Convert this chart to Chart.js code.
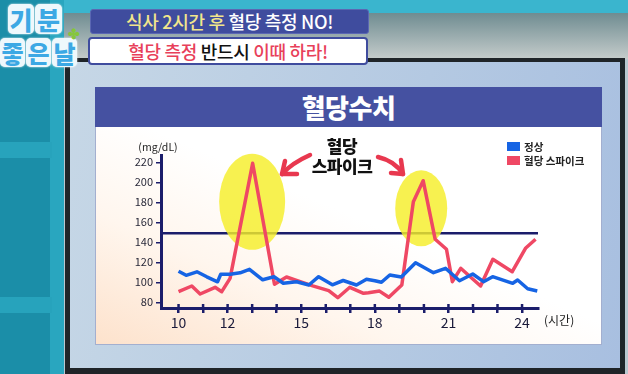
<!DOCTYPE html>
<html><head><meta charset="utf-8">
<script src="https://cdn.jsdelivr.net/npm/chart.js@4"></script>
<style>
*{margin:0;padding:0;box-sizing:border-box}
body{width:628px;height:374px;overflow:hidden;position:relative;background:#b9c7cf;font-family:"Noto Sans CJK KR","Noto Sans",sans-serif}
.a{position:absolute}
.lg{display:inline-block;background:#eef8fc;border-radius:5px;color:#3ca8e4;font-weight:900;text-align:center;margin-right:1px;box-shadow:0 0 2px #fff}
</style></head><body>
<!-- studio background -->
<div class="a" style="left:0;top:0;width:628px;height:14px;background:#3ab5ce"></div>
<div class="a" style="left:0;top:13px;width:628px;height:46px;background:linear-gradient(#6f8c91,#c5cccb)"></div>
<div class="a" style="left:0;top:0;width:52px;height:374px;background:#1b8ea8"></div>
<div class="a" style="left:50px;top:0;width:14px;height:374px;background:#29a6bf"></div>
<div class="a" style="left:0;top:142px;width:52px;height:16px;background:#27a3bc"></div>
<div class="a" style="left:0;top:297px;width:52px;height:16px;background:#27a3bc"></div>
<!-- monitor -->
<div class="a" style="left:65px;top:58px;width:560px;height:320px;background:#1f2428"></div>
<div class="a" style="left:70px;top:62px;width:550px;height:306px;background:linear-gradient(100deg,#c6d7e6,#b4c9e2 60%,#a8bfe0)"></div>
<!-- chart board -->
<div class="a" style="left:95px;top:87px;width:507px;height:40px;background:#4551a1;color:#fff;font-weight:900;font-size:26px;line-height:40px;text-align:center;letter-spacing:-0.5px">혈당수치</div>
<div class="a" style="left:95px;top:127px;width:507px;height:218px;background:linear-gradient(to top right,#fde2cc 0%,#fff6ee 30%,#ffffff 55%);border:1px solid #a3afcf;border-top:none"></div>
<canvas id="c" class="a" width="507" height="218" style="left:95px;top:127px;width:507px;height:218px"></canvas>
<!-- annotation -->
<div class="a" style="left:297px;top:136px;width:90px;text-align:center;font-weight:800;font-size:17px;line-height:20px;color:#111;letter-spacing:-0.5px">혈당<br>스파이크</div>
<!-- legend -->
<div class="a" id="legend" style="left:507px;top:140px;font-size:10.5px;font-weight:700;color:#222;line-height:13px"></div>
<!-- banners -->
<div class="a" style="left:90px;top:9px;width:279px;height:25px;background:#3f4c9e;border-radius:3px;border:1px solid #5b67b3;text-align:center;font-size:18px;font-weight:500;line-height:23px;color:#fff;letter-spacing:-0.3px"><span style="color:#f2e68c">식사 2시간 후</span> 혈당 측정 NO!</div>
<div class="a" style="left:88px;top:37px;width:280px;height:28px;background:#fff;border-radius:4px;border:2px solid #3f4c9e;text-align:center;font-size:18px;font-weight:500;line-height:24px;color:#111;letter-spacing:-0.3px"><span style="color:#e8405a">혈당 측정</span> 반드시 <span style="color:#e8405a">이때 하라!</span></div>
<!-- logo -->
<div class="a" style="left:8px;top:4px;font-size:25px;line-height:30px;white-space:nowrap"><span class="lg" style="width:26px">기</span><span class="lg" style="width:27px">분</span></div>
<div class="a" style="left:0px;top:38px;font-size:24px;line-height:29px;white-space:nowrap"><span class="lg" style="width:25px">좋</span><span class="lg" style="width:25px">은</span><span class="lg" style="width:25px">날</span></div>
<div class="a" style="left:68px;top:23px;font-size:14px;color:#86c63c;font-weight:900">✤</div>

<script>
// ---- data ----
const xTickValues = [10,11,12,13,14,15,16,17,18,19,20,21,22,23,24];
const xTickLabels = [10,12,15,18,21,24];
const yTickValues = [80,100,120,140,160,180,200,220];
const normalLabel = '정상';
const spikeLabel = '혈당 스파이크';
const normalTimes = [10.00,10.31,10.75,11.15,11.59,11.72,12.10,12.51,12.89,13.43,13.89,14.27,14.81,15.31,15.71,16.27,16.71,17.25,17.66,18.00,18.27,18.61,19.08,19.66,20.39,20.88,21.45,21.99,22.43,22.80,23.62,23.82,24.23,24.62];
const normalValues = [111,107,110.5,105.5,100.5,108,108,109.5,113,102.5,105.5,99,100.5,97.3,105.6,97.5,101.8,97.3,103,101.6,100,107.3,105.3,119.6,109.6,114,101.6,108.3,100.6,105.6,99,102.3,93.5,91.3];
const spikeTimes = [10.00,10.54,10.88,11.49,11.76,12.10,13.02,13.91,14.40,14.81,15.47,16.12,16.49,16.98,17.54,17.74,18.19,18.57,19.10,19.57,19.97,20.46,20.92,21.16,21.50,22.31,22.81,23.60,24.14,24.55];
const spikeValues = [90.6,96.3,88.3,95,90.6,104,219,98,105.3,102,96.5,91.6,84.6,95,89,89.6,91.2,85,97.3,180.6,201.6,143,133,100.6,114,96.3,123,110.6,134,143];
const thresholdValue = 149;
const yUnit = '(mg/dL)';
const xUnit = '(시간)';

// ---- styles ----
const NAVY = '#1b1d6b';
const BLUE = '#1664e4';
const RED = '#ef4864';
const FONT = '"Noto Sans CJK KR","Noto Sans",sans-serif';
Chart.defaults.font.family = FONT;

// legend (HTML)
document.getElementById('legend').innerHTML =
  [[BLUE,normalLabel],[RED,spikeLabel]].map(([c,t]) =>
   `<div style="display:flex;align-items:center;margin-bottom:1px"><span style="display:inline-block;width:13px;height:9px;background:${c};margin-right:4px"></span>${t}</div>`).join('');

const decor = {
  id:'decor',
  beforeDatasetsDraw(chart){
    const {ctx, chartArea:a, scales:{x,y}} = chart;
    ctx.save();
    const ty = y.getPixelForValue(thresholdValue);
    ctx.strokeStyle = NAVY; ctx.lineWidth = 2.5;
    ctx.beginPath(); ctx.moveTo(a.left, ty); ctx.lineTo(a.right, ty); ctx.stroke();
    ctx.fillStyle = 'rgba(245,238,42,0.82)';
    [[13.0,180.5,33,48],[19.89,174,26,38]].forEach(([cx,cy,rx,ry])=>{
      ctx.beginPath();
      ctx.ellipse(x.getPixelForValue(cx), y.getPixelForValue(cy), rx, ry, 0, 0, Math.PI*2);
      ctx.fill();
    });
    ctx.restore();
  },
  afterDraw(chart){
    const {ctx, chartArea:a, scales:{x}} = chart;
    ctx.save();
    ctx.strokeStyle = NAVY; ctx.lineWidth = 2.5;
    xTickValues.forEach(v=>{
      const px = x.getPixelForValue(v);
      ctx.beginPath(); ctx.moveTo(px, a.bottom-4); ctx.lineTo(px, a.bottom); ctx.stroke();
    });
    ctx.fillStyle = '#222';
    ctx.font = '10.5px ' + FONT;
    ctx.textAlign = 'center'; ctx.textBaseline = 'middle';
    ctx.fillText(yUnit, 63, 20);
    ctx.font = '12px ' + FONT;
    ctx.textAlign = 'left';
    ctx.fillText(xUnit, 449, 193);
    ctx.strokeStyle = '#e8384f'; ctx.lineWidth = 4.5; ctx.lineCap = 'round'; ctx.lineJoin='round';
    const arrow = (sx,sy,qx,qy,tx,ty,w1,w2)=>{
      ctx.beginPath(); ctx.moveTo(sx,sy); ctx.quadraticCurveTo(qx,qy,tx,ty); ctx.stroke();
      ctx.beginPath(); ctx.moveTo(w1[0],w1[1]); ctx.lineTo(tx,ty); ctx.lineTo(w2[0],w2[1]); ctx.stroke();
    };
    arrow(215,28, 197,36, 187,47, [190,34],[202,47]);
    arrow(283,30, 300,34, 308,47, [306,33],[296,46]);
    ctx.restore();
  }
};

new Chart(document.getElementById('c'), {
  type:'line',
  data:{datasets:[
    {label:normalLabel, data:normalTimes.map((t,i)=>({x:t,y:normalValues[i]})), borderColor:BLUE, backgroundColor:BLUE, borderWidth:3.5, pointRadius:0, tension:0, borderJoinStyle:'round'},
    {label:spikeLabel, data:spikeTimes.map((t,i)=>({x:t,y:spikeValues[i]})), borderColor:RED, backgroundColor:RED, borderWidth:3.5, pointRadius:0, tension:0, borderJoinStyle:'round'}
  ]},
  options:{
    responsive:false, animation:false, devicePixelRatio:1,
    layout:{padding:{left:0,right:64,top:28,bottom:0}},
    plugins:{legend:{display:false}, tooltip:{enabled:false}},
    scales:{
      x:{type:'linear', min:9.285, max:24.65,
        afterBuildTicks:s=>{ s.ticks = xTickValues.map(v=>({value:v})); },
        afterFit:s=>{ s.height = 37; },
        grid:{drawOnChartArea:false, tickLength:5, color:NAVY, lineWidth:2.5},
        border:{color:NAVY, width:3},
        ticks:{autoSkip:false, maxRotation:0, padding:1, color:'#1a1a3a', font:{size:14},
          callback:v=> xTickLabels.includes(v) ? String(v) : ''}
      },
      y:{min:74.3, max:227.3,
        afterBuildTicks:s=>{ s.ticks = yTickValues.map(v=>({value:v})); },
        afterFit:s=>{ s.width = 66; },
        grid:{drawOnChartArea:false, tickLength:5, color:NAVY, lineWidth:1.5},
        border:{color:NAVY, width:3},
        ticks:{padding:3, color:'#2a2a3a', font:{size:11}}
      }
    }
  },
  plugins:[decor]
});
</script>
</body></html>
